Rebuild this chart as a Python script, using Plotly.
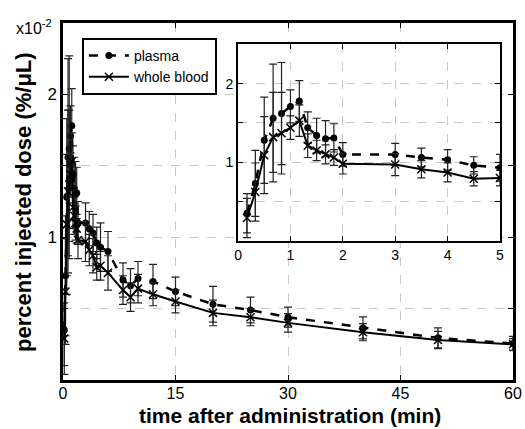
import plotly.graph_objects as go

# time after administration (min)
time_min = [0.17, 0.33, 0.5, 0.67, 0.83, 1.0, 1.17, 1.33, 1.5, 1.67, 1.83, 2.0,
            3.0, 3.5, 4.0, 4.5, 5.0, 6.0, 8.0, 9.0, 10.0, 12.0, 15.0, 20.0,
            25.0, 30.0, 40.0, 50.0, 60.0]
# percent injected dose (x1e-2 %/uL)
plasma = [0.35, 0.73, 1.28, 1.56, 1.62, 1.71, 1.78, 1.44, 1.34, 1.30, 1.31, 1.10,
          1.10, 1.06, 1.03, 0.96, 0.93, 0.90, 0.70, 0.66, 0.71, 0.69, 0.62, 0.53,
          0.49, 0.44, 0.365, 0.295, 0.255]
plasma_err = [0.25, 0.42, 0.55, 0.69, 0.65, 0.21, 0.26, 0.20, 0.22, 0.23, 0.18, 0.15,
              0.14, 0.12, 0.13, 0.11, 0.17, 0.14, 0.12, 0.12, 0.12, 0.12, 0.10, 0.125,
              0.09, 0.07, 0.077, 0.07, 0.05]
whole_blood = [0.29, 0.62, 1.09, 1.32, 1.37, 1.44, 1.53, 1.21, 1.15, 1.10, 1.06, 0.98,
               0.97, 0.91, 0.87, 0.79, 0.80, 0.75, 0.63, 0.58, 0.64, 0.60, 0.55, 0.47,
               0.44, 0.40, 0.335, 0.28, 0.25]
whole_blood_err = [0.25, 0.37, 0.49, 0.57, 0.52, 0.15, 0.20, 0.15, 0.13, 0.12, 0.10, 0.13,
                   0.14, 0.11, 0.12, 0.09, 0.10, 0.12, 0.10, 0.10, 0.10, 0.08, 0.08, 0.09,
                   0.06, 0.065, 0.06, 0.06, 0.04]

main_xticks = [0, 15, 30, 45, 60]
inset_xticks = [0, 1, 2, 3, 4, 5]
yticks = [1, 2]
ytick_minor_step = 0.5

FONT = "Arial, Liberation Sans, sans-serif"

fig = go.Figure()


def add_series(xa, ya, show):
    fig.add_trace(go.Scatter(
        x=time_min, y=plasma, name="plasma", mode="lines+markers",
        line=dict(color="black", width=2.5, dash="dash"),
        marker=dict(symbol="circle", size=7, color="black"),
        error_y=dict(type="data", array=plasma_err, color="#222", thickness=1.2, width=4),
        xaxis=xa, yaxis=ya, showlegend=show))
    fig.add_trace(go.Scatter(
        x=time_min, y=whole_blood, name="whole blood", mode="lines+markers",
        line=dict(color="black", width=2),
        marker=dict(symbol="x-thin", size=8, color="black",
                    line=dict(width=1.5, color="black")),
        error_y=dict(type="data", array=whole_blood_err, color="#222", thickness=1.2, width=4),
        xaxis=xa, yaxis=ya, showlegend=show))


add_series("x", "y", True)
add_series("x2", "y2", False)

axis_common = dict(
    showline=True, linecolor="black", mirror="ticks", ticks="inside",
    tickcolor="black", ticklen=5, showgrid=True, gridcolor="#c8c8c8",
    griddash="dash", gridwidth=1, zeroline=False, automargin=False,
)
y_minor = dict(tick0=0, dtick=ytick_minor_step, showgrid=True, gridcolor="#c8c8c8",
               griddash="dash", gridwidth=1, ticks="inside", ticklen=5,
               tickcolor="black")

fig.update_layout(
    width=525, height=429,
    margin=dict(l=63, r=12, t=23, b=49),
    paper_bgcolor="white", plot_bgcolor="white",
    font=dict(family=FONT, color="black"),
    xaxis=dict(range=[0, 60], tickvals=main_xticks, linewidth=2.5,
               tickfont=dict(size=16), ticklabelstandoff=-3, domain=[0, 1],
               **axis_common),
    yaxis=dict(range=[0, 2.5], tickvals=yticks, linewidth=2.5,
               tickfont=dict(size=17), domain=[0, 1], minor=y_minor, **axis_common),
    xaxis2=dict(range=[0, 5], tickvals=inset_xticks, linewidth=2,
                tickfont=dict(size=14), domain=[0.389, 0.971], anchor="y2",
                **axis_common),
    yaxis2=dict(range=[0, 2.5], tickvals=yticks, linewidth=2,
                tickfont=dict(size=14), domain=[0.39, 0.94], anchor="x2",
                minor=y_minor, **axis_common),
    legend=dict(x=0.042, y=0.958, xanchor="left", yanchor="top",
                bgcolor="white", bordercolor="black", borderwidth=2,
                font=dict(size=14), tracegroupgap=0, itemwidth=40),
    shapes=[dict(type="rect", xref="x2", yref="y2", x0=0, x1=5, y0=0, y1=2.5,
                 fillcolor="white", line=dict(width=0), layer="below")],
    annotations=[
        dict(text="x10<sup>-2</sup>", xref="paper", yref="paper",
             x=-0.02, y=0.99, xanchor="right", yanchor="middle",
             showarrow=False, font=dict(size=16)),
        dict(text="<b>time after administration (min)</b>", xref="paper", yref="paper",
             x=0.504, y=-0.1, xanchor="center", yanchor="middle",
             showarrow=False, font=dict(size=21)),
        dict(text="<b>percent injected dose (%/μL)</b>", xref="paper", yref="paper",
             x=-0.088, y=0.5, xanchor="center", yanchor="middle", textangle=-90,
             showarrow=False, font=dict(size=22)),
    ],
)

fig.write_html("out.html",
               config={"displayModeBar": False},
               post_script="document.body.style.margin='0px';"
                           "document.body.style.overflow='hidden';")
